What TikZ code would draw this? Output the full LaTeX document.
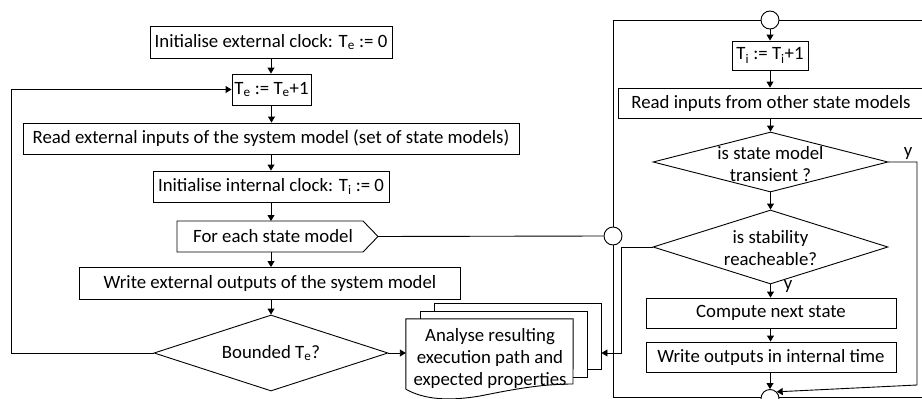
\documentclass[tikz,border=0pt]{standalone}
\usepackage{fontspec}
\setmainfont{Carlito}
\usetikzlibrary{arrows.meta,shapes.geometric}
\begin{document}
\begin{tikzpicture}[x=1pt,y=-1pt,
  every node/.style={font=\fontsize{18.8}{22}\selectfont},
  line/.style={draw=black, line width=0.9pt},
  box/.style={line, rectangle, inner sep=0pt, minimum height=31pt},
  dia/.style={line, diamond, inner sep=0pt, aspect=1},
  conn/.style={line, circle, inner sep=0pt, minimum size=18pt, fill=white},
  arr/.style={line, -{Triangle[length=6pt,width=7pt]}}
]
\useasboundingbox (0,0) rectangle (922,399);
\clip (0,0) rectangle (922,399);
% helper coordinates
\coordinate (lx) at (11,0);
\coordinate (fx) at (613,0);
\coordinate (rx) at (917,0);
\coordinate (ix) at (621,0);
\coordinate (ty) at (0,20);
\coordinate (by) at (0,397);
\coordinate (ry) at (0,385);
\coordinate (edge) at (930,0);

% ---------------- left column ----------------
\node[box, minimum width=242pt, minimum height=32pt] (iec) at (271,42) {Initialise external clock: T\textsubscript{e} := 0};
\node[box, minimum width=79pt] (te) at (271.5,89.5) {T\textsubscript{e} := T\textsubscript{e}+1};
\node[box, minimum width=496pt] (rei) at (271,138.5) {Read external inputs of the system model (set of state models)};
\node[box, minimum width=236pt] (iic) at (271,186.5) {Initialise internal clock: T\textsubscript{i} := 0};
% For each state model (pentagon)
\coordinate (fenw) at (177,221);
\coordinate (fene) at (363,221);
\coordinate (fetip) at (378,236.5);
\coordinate (fese) at (363,252);
\coordinate (fesw) at (177,252);
\draw[line] (fenw) -- (fene) -- (fetip) -- (fese) -- (fesw) -- cycle;
\node[inner sep=0pt, minimum width=186pt, minimum height=31pt] (fe) at (273,236.5) {For each state model};
\node[box, minimum width=381pt, minimum height=32pt] (weo) at (270,283.5) {Write external outputs of the system model};
\node[dia, minimum width=234pt, minimum height=76pt] (bd) at (271,353) {};
\node at (bd) {Bounded T\textsubscript{e}?};

% multi-document
\node[line, fill=white, inner sep=0pt, minimum width=167pt, minimum height=66pt] (d3) at (517.5,336) {};
\node[line, fill=white, inner sep=0pt, minimum width=167pt, minimum height=66pt] (d2) at (503.5,344) {};
\node[inner sep=0pt, minimum width=167pt, minimum height=70pt] (fd) at (489.5,354) {};
\draw[line, fill=white] (fd.south west) -- (fd.north west) -- (fd.north east) -- (573,384)
  .. controls (540,384) and (510,390) .. (480,396)
  .. controls (450,401) and (425,400) .. (fd.south west);
\node[align=center, inner sep=0pt] (dtext) at (490,358) {Analyse resulting\\execution path and\\expected properties};

% left arrows
\draw[arr] (iec.south) -- (iec.south |- te.north);
\draw[arr] (te.south) -- (te.south |- rei.north);
\draw[arr] (rei.south) -- (rei.south |- iic.north);
\draw[arr] (iic.south) -- (iic.south |- fenw);
\draw[arr] (iic.south |- fesw) -- (iic.south |- weo.north);
\draw[arr] (weo.south -| iic.south) -- (bd.north);
\draw[arr] (bd.west) -| (lx |- te.west) -- (te.west);
\draw[arr] (bd.east) -- (fd.west |- bd.east);

% ---------------- right column ----------------
\node[conn] (lc) at (613,236) {};
\node[conn] (tc) at (770,20) {};
\node[conn] (bc) at (770,398.5) {};
\node[box, minimum width=76pt, minimum height=29pt] (ti) at (770,55.5) {T\textsubscript{i} := T\textsubscript{i}+1};
\node[box, minimum width=306pt, minimum height=30pt] (ri) at (771,103) {Read inputs from other state models};
\node[dia, minimum width=235pt, minimum height=60pt] (tr) at (770.5,162) {};
\node[align=center, inner sep=0pt] at (770.5,164) {is state model\\transient ?};
\node[dia, minimum width=235pt, minimum height=74pt] (st) at (770.5,247) {};
\node[align=center, inner sep=0pt] at (770.5,248.5) {is stability\\reacheable?};
\node[box, minimum width=250pt, minimum height=30pt] (cn) at (771,313) {Compute next state};
\node[box, minimum width=250pt, minimum height=30pt] (wo) at (771,357) {Write outputs in internal time};
\node[inner sep=0pt] (y1) at (908,154) {y};
\node[inner sep=0pt] (y2) at (788,287) {y};

% frame lines
\draw[line] (fetip) -- (lc.west);
\draw[line] (lc.north) -- (fx |- ty) -- (tc.west);
\draw[line] (tc.east) -- (edge |- ty);
\draw[line] (lc.south) -- (fx |- by) -- (bc.west |- by);
\draw[line] (bc.east |- by) -- (edge |- by);

% right arrows
\draw[arr] (tc.south) -- (ti.north);
\draw[arr] (ti.south) -- (ti.south |- ri.north);
\draw[arr] (ri.south -| tr.north) -- (tr.north);
\draw[arr] (tr.south) -- (st.north);
\draw[arr] (st.south) -- (st.south |- cn.north);
\draw[arr] (cn.south -| st.south) -- (st.south |- wo.north);
\draw[arr] (wo.south -| tc.south) -- (bc.north);
\draw[arr] (tr.east) -| (rx |- ry) -- (bc.north east);
\draw[arr] (st.west) -| (ix |- bd.east) -- (d3.east |- bd.east);
\end{tikzpicture}
\end{document}
